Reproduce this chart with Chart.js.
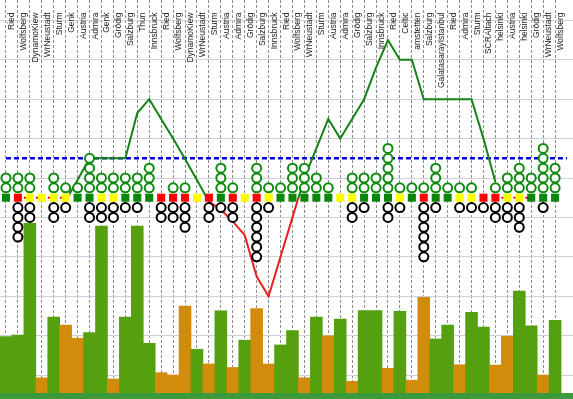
<!DOCTYPE html>
<html>
<head>
<meta charset="utf-8">
<script src="https://cdn.jsdelivr.net/npm/chart.js@4"></script>
<style>
  html, body { margin: 0; padding: 0; background: #fff; }
</style>
</head>
<body>
<canvas id="myChart" width="573" height="399"></canvas>
<script>
// opponents, one per match (last slot is an empty spacer)
const teams = ['Ried','Wolfsberg','DynamoKiew','WrNeustadt','Sturm','Genk','Austria','Admira','Genk','Grödig',
  'Salzburg','Thun','Innsbruck','Ried','Wolfsberg','DynamoKiew','WrNeustadt','Sturm','Austria','Admira',
  'Grödig','Salzburg','Innsbruck','Ried','Wolfsberg','WrNeustadt','Sturm','Austria','Admira','Grödig',
  'Salzburg','Innsbruck','Ried','Celtic','amstetten','Salzburg','GalatasarayIstanbul','Ried','Admira','Sturm',
  'SCRAltach','helsinki','Austria','helsinki','Grödig','WrNeustadt','Wolfsberg',''];

const goalsFor     = [2,2,2,0,2,1,1,4,2,2, 2,2,3,0,1,1,0,0,3,1, 0,3,1,1,3,3,2,1,0,2, 2,2,5,1,1,1,3,1,1,1, 0,1,2,3,2,5,3];
const goalsAgainst = [0,4,2,0,2,1,0,2,2,2, 1,1,0,2,2,3,0,2,1,2, 0,6,1,0,0,0,0,0,0,2, 1,0,2,1,0,6,1,0,1,1, 1,2,2,3,0,1,0];
const results = ['W','L','D','D','D','D','W','W','D','D', 'W','W','W','L','L','L','D','L','W','L',
  'D','L','D','W','W','W','W','W','D','D', 'W','W','W','D','W','L','W','W','D','D', 'L','L','D','D','W','W','W'];

// bottom bars (1 = home / green, 0 = away / orange)
const barValues = [15.0,15.4,43.6,4.6,19.9,17.9,14.6,16.0,42.9,4.3, 19.9,42.9,13.3,5.9,5.3,22.7,11.8,8.1,21.5,7.2,
  14.1,22.1,8.1,12.9,16.5,4.6,19.9,15.2,19.4,3.7, 21.6,21.6,7.0,21.4,4.0,24.9,14.4,17.9,7.9,21.1, 17.4,7.8,15.1,26.5,17.7,5.3,19.1];
const homeGame = [1,1,1,0,1,0,0,1,1,0, 1,1,1,0,0,0,1,0,1,0, 1,0,0,1,1,0,1,0,1,0, 1,1,0,1,0,0,1,1,0,1, 1,0,0,1,1,0,1];

// form line (green above the result row, red below)
const formLine = [null,null,null,null,null,4.42,4.95,5.5,5.5,5.5, 5.5,6.65,7.0,6.5,6.0,5.48,4.95,4.4,4.2,3.9,
  3.55,2.5,2.0,3.0,4.0,5.0,5.75,6.5,6.0,6.5, 7.0,7.8,8.5,8.0,8.0,7.0,7.0,7.0,7.0,7.0, 6.0,4.9,null,null,null,null,null,null];
const avgLevel = 5.5;
const streakIdx = [1,2,3,4,5,41,42,43,44];

const ROW = 4.5;
const STEP = 0.25;
const GREEN_LINE = '#168216';
const RED_LINE = '#ee1c1c';
const resultColors = { W: '#0a860a', D: '#ffff00', L: '#ff0000' };

const streakLine = teams.map((t, i) => streakIdx.includes(i) ? ROW : null);
const avgLine = teams.map((t, i) => (i === 0 || i === teams.length - 1) ? avgLevel : null);

// one point dataset per stacking level of goal circles
function goalLevels(goals, sign, color, order) {
  const maxGoals = Math.max(...goals);
  const sets = [];
  for (let n = 1; n <= maxGoals; n++) {
    sets.push({
      type: 'line',
      data: goals.map(g => g >= n ? ROW + sign * n * STEP : null),
      showLine: false,
      pointStyle: 'circle',
      pointRadius: 4.5,
      pointBorderWidth: 2,
      pointBorderColor: color,
      pointBackgroundColor: '#fff',
      order: order
    });
  }
  return sets;
}

function formColor(context) {
  const chart = context.chart;
  const area = chart.chartArea;
  if (!area) return GREEN_LINE;
  const yPix = chart.scales.y.getPixelForValue(ROW);
  const t = Math.min(1, Math.max(0, (yPix - area.top) / (area.bottom - area.top)));
  const g = chart.ctx.createLinearGradient(0, area.top, 0, area.bottom);
  g.addColorStop(0, GREEN_LINE);
  g.addColorStop(t, GREEN_LINE);
  g.addColorStop(t, RED_LINE);
  g.addColorStop(1, RED_LINE);
  return g;
}

const topLabels = {
  id: 'topLabels',
  afterDraw(chart) {
    const { ctx, scales: { x } } = chart;
    ctx.save();
    ctx.font = '8.5px "Liberation Sans", Arial, sans-serif';
    ctx.fillStyle = '#222';
    ctx.textAlign = 'right';
    ctx.textBaseline = 'alphabetic';
    teams.forEach((t, i) => {
      ctx.save();
      ctx.translate(x.getPixelForValue(i) + 8, 12.5);
      ctx.rotate(-Math.PI / 2);
      ctx.fillText(t, 0, 0);
      ctx.restore();
    });
    ctx.restore();
  }
};

const ctx = document.getElementById('myChart').getContext('2d');
const chart = new Chart(ctx, {
  type: 'line',
  data: {
    labels: teams,
    datasets: [
      ...goalLevels(goalsFor, 1, '#0f8a0f', 0),
      ...goalLevels(goalsAgainst, -1, '#000', 1),
      {
        type: 'line',
        data: results.map(() => ROW),
        showLine: false,
        pointStyle: 'rect',
        pointRadius: 5.7,
        pointBorderWidth: 0,
        pointBackgroundColor: results.map(r => resultColors[r]),
        order: 2
      },
      {
        type: 'line',
        data: streakLine,
        borderColor: '#ee0000',
        borderWidth: 2,
        borderDash: [3, 3],
        pointRadius: 0,
        spanGaps: false,
        order: 3
      },
      {
        type: 'line',
        data: formLine,
        borderColor: formColor,
        borderWidth: 2,
        pointRadius: 0,
        tension: 0,
        order: 4
      },
      {
        type: 'line',
        data: avgLine,
        spanGaps: true,
        borderColor: '#0000d8',
        borderWidth: 2.5,
        borderDash: [5, 3],
        pointRadius: 0,
        order: 5
      },
      {
        type: 'bar',
        data: barValues,
        yAxisID: 'yb',
        backgroundColor: homeGame.map(h => h ? '#55a00f' : '#d28c0c'),
        borderWidth: 0,
        grouped: false,
        barPercentage: 1,
        categoryPercentage: 1,
        order: 6
      }
    ]
  },
  options: {
    responsive: false,
    animation: false,
    layout: { autoPadding: false, padding: { left: 0, right: 0, top: 0, bottom: 3 } },
    plugins: { legend: { display: false }, tooltip: { enabled: false } },
    scales: {
      x: {
        type: 'category',
        offset: true,
        ticks: { display: false },
        grid: {
          offset: false,
          drawTicks: false,
          lineWidth: 1,
          color: c => c.index < 47 ? '#8c8c8c' : 'rgba(0,0,0,0)'
        },
        border: { display: true, color: '#3c9a3c', width: 6, z: 1, dash: [3, 2] }
      },
      y: {
        type: 'linear',
        min: -0.533,
        max: 9.518,
        ticks: { display: false, stepSize: 1 },
        grid: {
          drawTicks: false,
          color: c => Number.isInteger(c.tick.value) ? '#cfcfe3' : 'rgba(0,0,0,0)'
        },
        border: { display: false }
      },
      yb: { type: 'linear', display: false, min: 0, max: 100 }
    }
  },
  plugins: [topLabels]
});
</script>
</body>
</html>
